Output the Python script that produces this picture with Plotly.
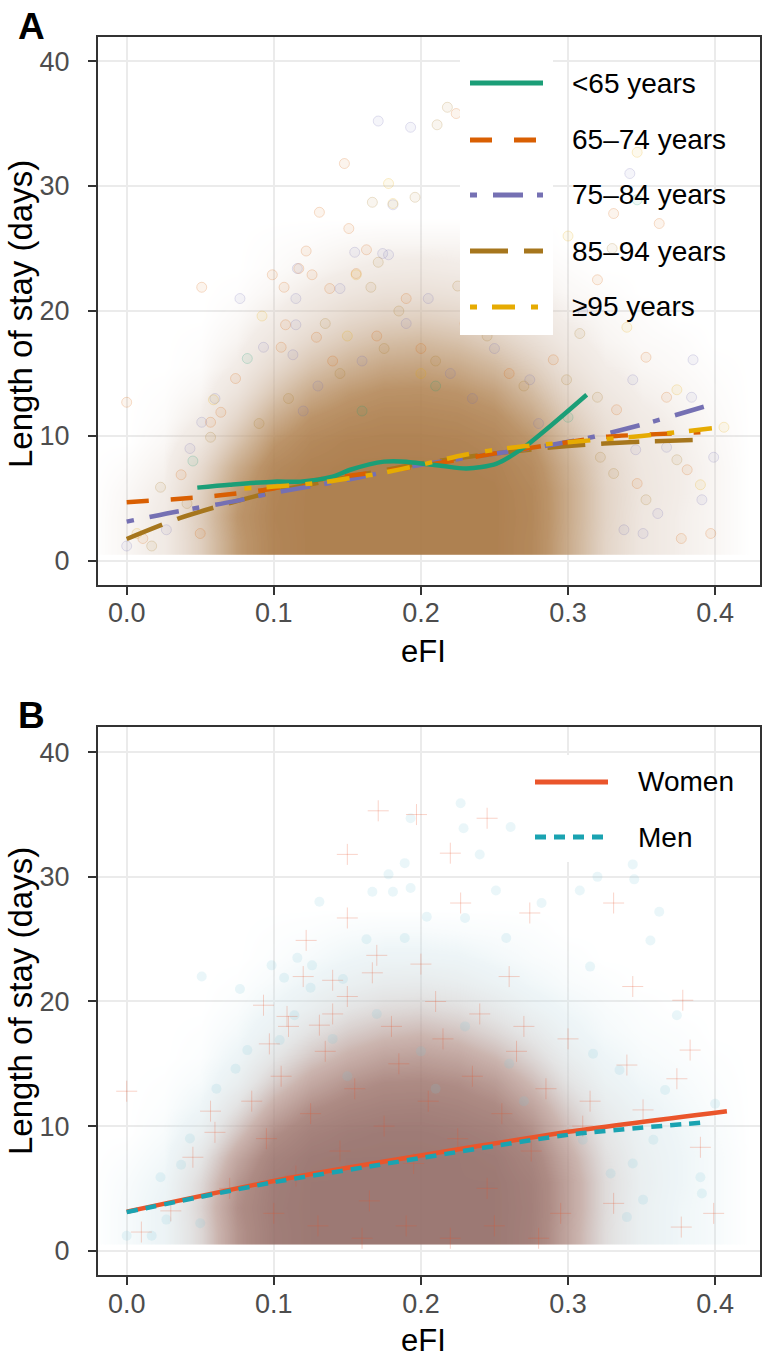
import plotly.graph_objects as go

# ===================== DATA =====================
# ---- Panel A: smoothed length of stay vs eFI, by age group ----
age_groups = ["<65 years", "65–74 years", "75–84 years", "85–94 years", "≥95 years"]

a_lt65_x = [0.048, 0.07, 0.10, 0.118, 0.14, 0.152, 0.175, 0.19, 0.20, 0.215, 0.231, 0.2515, 0.269, 0.29, 0.3127]
a_lt65_y = [5.87, 6.10, 6.35, 6.35, 6.75, 7.30, 7.95, 7.95, 7.80, 7.60, 7.40, 7.80, 9.00, 11.0, 13.3]
a_6574_x = [0.0, 0.05, 0.075, 0.10, 0.13, 0.15, 0.20, 0.25, 0.30, 0.327, 0.35, 0.37, 0.39]
a_6574_y = [4.70, 5.10, 5.40, 5.80, 6.50, 6.80, 7.60, 8.60, 9.50, 9.95, 10.1, 10.2, 10.3]
a_7584_x = [0.0, 0.036, 0.072, 0.10, 0.15, 0.20, 0.26, 0.308, 0.35, 0.3997]
a_7584_y = [3.15, 4.00, 4.75, 5.45, 6.50, 7.70, 8.75, 9.70, 10.9, 12.6]
a_8594_x = [0.0, 0.036, 0.072, 0.10, 0.15, 0.20, 0.25, 0.30, 0.35, 0.393]
a_8594_y = [1.76, 3.43, 4.70, 5.55, 6.70, 7.80, 8.60, 9.20, 9.55, 9.70]
a_95_x = [0.08, 0.10, 0.13, 0.15, 0.172, 0.20, 0.23, 0.26, 0.30, 0.35, 0.408]
a_95_y = [5.80, 5.95, 6.25, 6.60, 7.00, 7.70, 8.50, 9.05, 9.50, 10.0, 10.75]

pa_lt65_x = [0.082, 0.347, 0.30, 0.045, 0.21, 0.16]
pa_lt65_y = [16.2, 28.9, 11.5, 8.0, 14.0, 12.0]
pa_6574_x = [0.148, 0.131, 0.151, 0.122, 0.163, 0.099, 0.126, 0.051, 0.107, 0.138, 0.0, 0.074, 0.064,
             0.057, 0.117, 0.156, 0.108, 0.105, 0.129, 0.367, 0.333, 0.381, 0.397, 0.377, 0.347, 0.353,
             0.224, 0.331, 0.362, 0.011, 0.037, 0.05, 0.29, 0.32, 0.14, 0.17, 0.20, 0.23, 0.26, 0.19]
pa_6574_y = [31.8, 27.9, 26.6, 24.8, 24.9, 22.9, 22.9, 21.9, 21.9, 21.8, 12.7, 14.6, 11.9,
             11.1, 23.4, 23.0, 18.9, 17.1, 17.9, 13.1, 12.1, 7.3, 2.2, 1.8, 6.2, 16.3,
             35.8, 27.8, 27.0, 1.8, 6.9, 2.2, 16.1, 22.5, 16.0, 18.0, 17.0, 19.0, 15.0, 21.0]
pa_7584_x = [0.171, 0.181, 0.155, 0.178, 0.116, 0.077, 0.145, 0.060, 0.051, 0.115, 0.174, 0.115,
             0.093, 0.113, 0.385, 0.344, 0.384, 0.367, 0.391, 0.338, 0.351, 0.399, 0.361, 0.346,
             0.342, 0.193, 0.0, 0.027, 0.043, 0.274, 0.31, 0.13, 0.16, 0.19, 0.22, 0.25, 0.12,
             0.205, 0.235, 0.28]
pa_7584_y = [35.2, 28.5, 24.7, 24.5, 23.4, 21.0, 21.8, 13.0, 11.1, 21.0, 24.6, 18.9,
             17.1, 16.5, 16.1, 14.5, 13.1, 9.1, 4.9, 2.5, 2.2, 8.3, 3.8, 8.9,
             31.0, 34.7, 1.2, 2.5, 9.0, 14.5, 20.0, 14.0, 16.0, 19.0, 15.0, 17.0, 12.0,
             21.0, 13.0, 11.0]
pa_8594_x = [0.167, 0.171, 0.166, 0.320, 0.374, 0.353, 0.331, 0.322, 0.196, 0.218, 0.211, 0.017,
             0.023, 0.041, 0.057, 0.299, 0.308, 0.33, 0.11, 0.145, 0.175, 0.21, 0.245, 0.27,
             0.135, 0.185, 0.225, 0.09]
pa_8594_y = [28.7, 23.9, 21.9, 13.1, 8.1, 4.9, 7.0, 8.3, 29.1, 36.3, 34.9, 1.2,
             5.9, 4.6, 9.9, 14.5, 18.2, 25.0, 13.0, 15.0, 17.0, 16.0, 18.0, 14.0,
             19.0, 20.0, 22.0, 11.0]
pa_95_x = [0.178, 0.156, 0.092, 0.340, 0.374, 0.390, 0.406, 0.347, 0.181, 0.007, 0.059, 0.30,
           0.15, 0.20, 0.24]
pa_95_y = [30.2, 22.9, 19.6, 18.7, 13.7, 6.1, 10.7, 32.7, 28.6, 2.2, 12.9, 26.0,
           18.0, 15.0, 20.0]

# estimated density of the overplotted core (relative, 0-1); rows = dens_y, cols = dens_x
dens_x = [-0.025, 0.0, 0.025, 0.05, 0.075, 0.10, 0.125, 0.15, 0.175, 0.20, 0.225, 0.25, 0.275, 0.30, 0.325, 0.35, 0.375, 0.40, 0.425, 0.45]
dens_y = [1.5, 3.5, 5.5, 7.5, 9.5, 11.5, 13.5, 15.5, 17.5, 19.5, 21.5, 23.5, 25.5, 27.5]
dens_a = [
    [0, 0.05, 0.12, 0.40, 0.75, 0.95, 1.00, 1.00, 1.00, 1.00, 1.00, 1.00, 0.92, 0.65, 0.35, 0.17, 0.09, 0.05, 0, 0],
    [0, 0.05, 0.12, 0.42, 0.78, 0.96, 1.00, 1.00, 1.00, 1.00, 1.00, 1.00, 0.93, 0.66, 0.36, 0.17, 0.09, 0.05, 0, 0],
    [0, 0.04, 0.10, 0.38, 0.74, 0.95, 1.00, 1.00, 1.00, 1.00, 1.00, 1.00, 0.92, 0.66, 0.36, 0.18, 0.10, 0.05, 0, 0],
    [0, 0.02, 0.07, 0.30, 0.64, 0.90, 0.98, 1.00, 1.00, 1.00, 1.00, 0.98, 0.88, 0.62, 0.34, 0.17, 0.10, 0.05, 0, 0],
    [0, 0.00, 0.04, 0.18, 0.48, 0.78, 0.92, 0.97, 0.98, 0.98, 0.97, 0.93, 0.80, 0.54, 0.29, 0.15, 0.09, 0.04, 0, 0],
    [0, 0.00, 0.02, 0.10, 0.33, 0.62, 0.80, 0.88, 0.92, 0.92, 0.90, 0.84, 0.68, 0.43, 0.23, 0.12, 0.07, 0.03, 0, 0],
    [0, 0.00, 0.01, 0.05, 0.20, 0.45, 0.65, 0.76, 0.82, 0.83, 0.80, 0.72, 0.54, 0.32, 0.16, 0.08, 0.05, 0.02, 0, 0],
    [0, 0.00, 0.00, 0.02, 0.11, 0.30, 0.48, 0.60, 0.68, 0.70, 0.66, 0.56, 0.40, 0.22, 0.10, 0.05, 0.03, 0.01, 0, 0],
    [0, 0.00, 0.00, 0.01, 0.06, 0.18, 0.33, 0.44, 0.52, 0.55, 0.50, 0.40, 0.27, 0.14, 0.06, 0.03, 0.02, 0.00, 0, 0],
    [0, 0.00, 0.00, 0.00, 0.03, 0.10, 0.20, 0.30, 0.36, 0.38, 0.34, 0.26, 0.16, 0.08, 0.04, 0.02, 0.00, 0.00, 0, 0],
    [0, 0.00, 0.00, 0.00, 0.01, 0.05, 0.11, 0.18, 0.23, 0.24, 0.21, 0.15, 0.09, 0.04, 0.02, 0.00, 0.00, 0.00, 0, 0],
    [0, 0.00, 0.00, 0.00, 0.00, 0.02, 0.05, 0.09, 0.12, 0.13, 0.11, 0.08, 0.04, 0.02, 0.00, 0.00, 0.00, 0.00, 0, 0],
    [0, 0.00, 0.00, 0.00, 0.00, 0.01, 0.02, 0.04, 0.05, 0.05, 0.05, 0.03, 0.02, 0.00, 0.00, 0.00, 0.00, 0.00, 0, 0],
    [0, 0.00, 0.00, 0.00, 0.00, 0.00, 0.00, 0.00, 0.00, 0.00, 0.00, 0.00, 0.00, 0.00, 0.00, 0.00, 0.00, 0.00, 0, 0],
]

# ---- Panel B: fitted length of stay vs eFI, by sex ----
sex_groups = ["Women", "Men"]
b_women_x = [0.0, 0.10, 0.172, 0.30, 0.408]
b_women_y = [3.13, 5.60, 7.10, 9.55, 11.2]
b_men_x = [0.0, 0.10, 0.172, 0.30, 0.393]
b_men_y = [3.10, 5.50, 6.90, 9.30, 10.3]

pb_women_x = [0.171, 0.150, 0.150, 0.122, 0.167, 0.245, 0.220, 0.331, 0.197, 0.227, 0.274, 0.344,
              0.378, 0.377, 0.383, 0.374, 0.390, 0.340, 0.351, 0.331, 0.399, 0.0, 0.093, 0.140,
              0.170, 0.109, 0.097, 0.057, 0.131, 0.150, 0.010, 0.030, 0.045, 0.060, 0.300, 0.315,
              0.085, 0.095, 0.105, 0.115, 0.125, 0.135, 0.145, 0.155, 0.165, 0.175, 0.185, 0.195,
              0.205, 0.215, 0.225, 0.235, 0.245, 0.255, 0.265, 0.275, 0.285, 0.295, 0.11, 0.14,
              0.18, 0.21, 0.24, 0.27, 0.10, 0.13, 0.16, 0.19, 0.22, 0.25, 0.28, 0.07, 0.31,
              0.12, 0.20, 0.26]
pb_women_y = [35.3, 31.8, 26.7, 24.9, 22.3, 34.7, 31.9, 27.9, 35.0, 27.9, 27.1, 21.2,
              20.1, 1.9, 16.1, 13.8, 8.3, 14.9, 11.3, 3.8, 3.0, 12.8, 19.7, 21.7,
              23.7, 18.8, 16.6, 11.2, 18.1, 20.4, 1.5, 3.2, 7.5, 9.5, 17.0, 12.0,
              12, 9, 14, 6, 11, 16, 8, 13, 4, 10, 15, 7,
              12, 17, 9, 14, 5, 11, 16, 8, 13, 3, 18, 19,
              18, 20, 19, 18, 3, 2, 1, 2, 1, 2, 1, 5, 10,
              22, 23, 22]
pb_men_x = [0.178, 0.167, 0.181, 0.131, 0.163, 0.116, 0.126, 0.0985, 0.107, 0.051, 0.077, 0.147,
            0.227, 0.229, 0.261, 0.240, 0.193, 0.189, 0.344, 0.345, 0.320, 0.308, 0.362, 0.356,
            0.251, 0.282, 0.193, 0.204, 0.230, 0.258, 0.315, 0.189, 0.374, 0.390, 0.391, 0.400,
            0.366, 0.344, 0.351, 0.340, 0.335, 0.317, 0.310, 0.329, 0.358, 0.104, 0.082, 0.074,
            0.061, 0.114, 0.125, 0.0, 0.017, 0.027, 0.037, 0.043, 0.023, 0.050, 0.14, 0.17,
            0.20, 0.23, 0.26, 0.15, 0.21, 0.27]
pb_men_y = [30.2, 28.8, 28.8, 28.0, 25.0, 23.5, 22.9, 22.9, 21.9, 22.0, 21.0, 21.8,
            35.9, 33.9, 34.0, 31.8, 34.7, 31.1, 31.0, 29.8, 30.0, 28.9, 27.2, 24.9,
            28.9, 27.9, 29.1, 26.8, 26.7, 25.1, 22.8, 25.1, 18.9, 5.9, 4.6, 11.8,
            12.9, 7.0, 4.1, 2.7, 14.5, 15.8, 8.9, 6.2, 8.9, 16.9, 16.1, 14.6,
            13.0, 18.9, 21.1, 1.2, 1.2, 2.5, 6.9, 9.0, 5.9, 2.2, 17.0, 19.0,
            16.0, 18.0, 15.0, 14.0, 13.0, 12.0]

dens_b = [
    [0, 0.05, 0.12, 0.38, 0.74, 0.95, 1.00, 1.00, 1.00, 1.00, 1.00, 1.00, 0.92, 0.64, 0.35, 0.17, 0.09, 0.05, 0, 0],
    [0, 0.05, 0.12, 0.40, 0.77, 0.96, 1.00, 1.00, 1.00, 1.00, 1.00, 1.00, 0.93, 0.66, 0.36, 0.17, 0.09, 0.05, 0, 0],
    [0, 0.04, 0.10, 0.37, 0.73, 0.95, 1.00, 1.00, 1.00, 1.00, 1.00, 1.00, 0.92, 0.66, 0.36, 0.18, 0.10, 0.05, 0, 0],
    [0, 0.02, 0.07, 0.29, 0.63, 0.89, 0.98, 1.00, 1.00, 1.00, 1.00, 0.98, 0.87, 0.61, 0.33, 0.17, 0.10, 0.05, 0, 0],
    [0, 0.00, 0.04, 0.18, 0.47, 0.77, 0.91, 0.96, 0.98, 0.98, 0.96, 0.92, 0.78, 0.52, 0.28, 0.15, 0.09, 0.04, 0, 0],
    [0, 0.00, 0.02, 0.10, 0.32, 0.60, 0.78, 0.86, 0.90, 0.91, 0.88, 0.82, 0.66, 0.42, 0.22, 0.12, 0.07, 0.03, 0, 0],
    [0, 0.00, 0.01, 0.05, 0.19, 0.43, 0.62, 0.74, 0.80, 0.81, 0.78, 0.70, 0.52, 0.31, 0.15, 0.08, 0.05, 0.02, 0, 0],
    [0, 0.00, 0.00, 0.02, 0.11, 0.29, 0.46, 0.58, 0.66, 0.68, 0.64, 0.54, 0.38, 0.21, 0.10, 0.05, 0.03, 0.01, 0, 0],
    [0, 0.00, 0.00, 0.01, 0.06, 0.17, 0.32, 0.43, 0.50, 0.53, 0.48, 0.38, 0.26, 0.13, 0.06, 0.03, 0.02, 0.00, 0, 0],
    [0, 0.00, 0.00, 0.00, 0.03, 0.10, 0.19, 0.29, 0.35, 0.37, 0.33, 0.25, 0.15, 0.08, 0.04, 0.02, 0.00, 0.00, 0, 0],
    [0, 0.00, 0.00, 0.00, 0.01, 0.05, 0.11, 0.17, 0.22, 0.23, 0.20, 0.14, 0.08, 0.04, 0.02, 0.00, 0.00, 0.00, 0, 0],
    [0, 0.00, 0.00, 0.00, 0.00, 0.02, 0.05, 0.09, 0.12, 0.12, 0.11, 0.07, 0.04, 0.02, 0.00, 0.00, 0.00, 0.00, 0, 0],
    [0, 0.00, 0.00, 0.00, 0.00, 0.01, 0.02, 0.04, 0.05, 0.05, 0.04, 0.03, 0.02, 0.00, 0.00, 0.00, 0.00, 0.00, 0, 0],
    [0, 0.00, 0.00, 0.00, 0.00, 0.00, 0.00, 0.00, 0.00, 0.00, 0.00, 0.00, 0.00, 0.00, 0.00, 0.00, 0.00, 0.00, 0, 0],
]

x_ticks = [0.0, 0.1, 0.2, 0.3, 0.4]
x_tick_labels = ["0.0", "0.1", "0.2", "0.3", "0.4"]
y_ticks = [0, 10, 20, 30, 40]
y_tick_labels = ["0", "10", "20", "30", "40"]

# ===================== STYLE =====================
W, H = 768, 1360
FONT = "Liberation Sans, Arial, Helvetica, sans-serif"
age_colors = ["#1B9E77", "#D95F02", "#7570B3", "#A6761D", "#E6AB02"]
age_dashes = ["solid", "22px,22px", "7px,16px,30px,14px", "38px,16px", "7px,15px,23px,16px"]
sex_colors = ["#EA552B", "#1AA3B1"]
sex_dashes = ["solid", "11px,8px"]
LW = 4.5


def rgba(hex_color, a):
    h = hex_color.lstrip("#")
    r, g, b = int(h[0:2], 16), int(h[2:4], 16), int(h[4:6], 16)
    return f"rgba({r},{g},{b},{a})"


def px(x):
    return x / W


def py(y):
    return 1 - y / H


fig = go.Figure()

# ---------- Panel A ----------
fig.add_trace(go.Heatmap(
    x=dens_x, y=dens_y, z=dens_a, zmin=0, zmax=1, zsmooth="best", showscale=False,
    hoverinfo="skip", xaxis="x", yaxis="y",
    colorscale=[[0.0, "rgba(215,195,180,0)"], [0.1, "rgba(212,192,176,0.3)"],
                [0.3, "rgba(205,180,158,0.5)"], [0.55, "rgba(192,158,122,0.72)"],
                [0.8, "rgba(178,133,85,0.88)"], [1.0, "rgba(170,122,72,0.95)"]],
))

pts_a = [(pa_lt65_x, pa_lt65_y), (pa_6574_x, pa_6574_y), (pa_7584_x, pa_7584_y),
         (pa_8594_x, pa_8594_y), (pa_95_x, pa_95_y)]
for (px_, py_), col, name in zip(pts_a, age_colors, age_groups):
    fig.add_trace(go.Scatter(
        x=px_, y=py_, mode="markers", xaxis="x", yaxis="y", showlegend=False, name=name,
        marker=dict(size=10, color=rgba(col, 0.07), line=dict(color=rgba(col, 0.2), width=1)),
        hoverinfo="skip"))

lines_a = [(a_lt65_x, a_lt65_y), (a_6574_x, a_6574_y), (a_7584_x, a_7584_y),
           (a_8594_x, a_8594_y), (a_95_x, a_95_y)]
draw_order = [3, 2, 1, 0, 4]
for i in draw_order:
    lx, ly = lines_a[i]
    fig.add_trace(go.Scatter(
        x=lx, y=ly, mode="lines", xaxis="x", yaxis="y", name=age_groups[i], showlegend=False,
        line=dict(color=age_colors[i], width=LW, dash=age_dashes[i], shape="spline", smoothing=0.8)))

# ---------- Panel B ----------
fig.add_trace(go.Heatmap(
    x=dens_x, y=dens_y, z=dens_b, zmin=0, zmax=1, zsmooth="best", showscale=False,
    hoverinfo="skip", xaxis="x2", yaxis="y2",
    colorscale=[[0.0, "rgba(205,230,236,0)"], [0.1, "rgba(205,226,232,0.35)"],
                [0.3, "rgba(200,200,200,0.5)"], [0.55, "rgba(182,150,142,0.72)"],
                [0.8, "rgba(160,120,112,0.86)"], [1.0, "rgba(148,110,104,0.92)"]],
))
fig.add_trace(go.Scatter(
    x=pb_men_x, y=pb_men_y, mode="markers", xaxis="x2", yaxis="y2", showlegend=False, name="Men",
    marker=dict(size=10, color=rgba("#7CC8D8", 0.16), line=dict(width=0)), hoverinfo="skip"))
fig.add_trace(go.Scatter(
    x=pb_women_x, y=pb_women_y, mode="markers", xaxis="x2", yaxis="y2", showlegend=False, name="Women",
    marker=dict(size=15, symbol="cross-thin", line=dict(color=rgba("#EA552B", 0.25), width=1)),
    hoverinfo="skip"))
fig.add_trace(go.Scatter(
    x=b_women_x, y=b_women_y, mode="lines", xaxis="x2", yaxis="y2", name="Women", showlegend=False,
    line=dict(color=sex_colors[0], width=LW, dash=sex_dashes[0], shape="spline", smoothing=0.6)))
fig.add_trace(go.Scatter(
    x=b_men_x, y=b_men_y, mode="lines", xaxis="x2", yaxis="y2", name="Men", showlegend=False,
    line=dict(color=sex_colors[1], width=LW, dash=sex_dashes[1], shape="spline", smoothing=0.6)))

# ---------- axes ----------
common_ax = dict(
    showgrid=True, gridcolor="#EBEBEB", gridwidth=1.8, zeroline=False,
    showline=True, mirror=True, linecolor="#333333", linewidth=1.6,
    ticks="outside", ticklen=8, tickwidth=1.8, tickcolor="#333333",
    tickfont=dict(family=FONT, size=27, color="#4D4D4D"),
)
XDOM = [px(97.7), px(760)]
fig.update_layout(
    width=W, height=H, margin=dict(l=0, r=0, t=0, b=0),
    paper_bgcolor="white", plot_bgcolor="white", showlegend=False,
    xaxis=dict(domain=XDOM, range=[-0.0197, 0.4305], anchor="y", tickvals=x_ticks,
               ticktext=x_tick_labels, ticklabelstandoff=-5, **common_ax),
    yaxis=dict(domain=[py(585), py(37.3)], range=[-1.92, 41.9], anchor="x", tickvals=y_ticks,
               ticktext=y_tick_labels, ticklabelstandoff=13, **common_ax),
    xaxis2=dict(domain=XDOM, range=[-0.0197, 0.4305], anchor="y2", tickvals=x_ticks,
                ticktext=x_tick_labels, ticklabelstandoff=-5, **common_ax),
    yaxis2=dict(domain=[py(1275.3), py(727.3)], range=[-1.97, 42.0], anchor="x2", tickvals=y_ticks,
                ticktext=y_tick_labels, ticklabelstandoff=13, **common_ax),
)

# ---------- legends drawn as keys + labels ----------
shapes = []
annotations = []
shapes.append(dict(type="rect", xref="paper", yref="paper", x0=px(460), x1=px(553), y0=py(335), y1=py(60),
                   fillcolor="white", line=dict(width=0), layer="above"))
leg_a_y = [83, 140, 195, 251, 307]
for i, yy in enumerate(leg_a_y):
    shapes.append(dict(type="line", xref="paper", yref="paper", x0=px(470), x1=px(543), y0=py(yy), y1=py(yy),
                       line=dict(color=age_colors[i], width=LW + 0.5, dash=age_dashes[i]), layer="above"))
    annotations.append(dict(xref="paper", yref="paper", x=px(570), y=py(yy), text=age_groups[i],
                            showarrow=False, xanchor="left", yanchor="middle",
                            font=dict(family=FONT, size=28, color="black")))
shapes.append(dict(type="rect", xref="paper", yref="paper", x0=px(527), x1=px(617), y0=py(862), y1=py(755),
                   fillcolor="white", line=dict(width=0), layer="above"))
leg_b_y = [782, 837]
for i, yy in enumerate(leg_b_y):
    shapes.append(dict(type="line", xref="paper", yref="paper", x0=px(535), x1=px(608), y0=py(yy), y1=py(yy),
                       line=dict(color=sex_colors[i], width=LW + 0.5, dash=sex_dashes[i]), layer="above"))
    annotations.append(dict(xref="paper", yref="paper", x=px(636), y=py(yy), text=sex_groups[i],
                            showarrow=False, xanchor="left", yanchor="middle",
                            font=dict(family=FONT, size=28, color="black")))

# axis titles and panel tags
for (yc, xt_y, tag, tag_y) in [(314, 651, "A", 26.5), (1001, 1340, "B", 715.5)]:
    annotations.append(dict(xref="paper", yref="paper", x=px(20), y=py(yc), text="Length of stay (days)",
                            textangle=-90, showarrow=False, xanchor="center", yanchor="middle",
                            font=dict(family=FONT, size=33, color="black")))
    annotations.append(dict(xref="paper", yref="paper", x=px(423), y=py(xt_y), text="eFI",
                            showarrow=False, xanchor="center", yanchor="middle",
                            font=dict(family=FONT, size=31, color="black")))
    annotations.append(dict(xref="paper", yref="paper", x=px(31), y=py(tag_y), text="<b>" + tag + "</b>",
                            showarrow=False, xanchor="center", yanchor="middle",
                            font=dict(family=FONT, size=37, color="black")))

fig.update_layout(shapes=shapes, annotations=annotations)
fig.write_html("out.html", config={"displayModeBar": False},
               post_script="document.body.style.margin='0px';document.body.style.overflow='hidden';")
